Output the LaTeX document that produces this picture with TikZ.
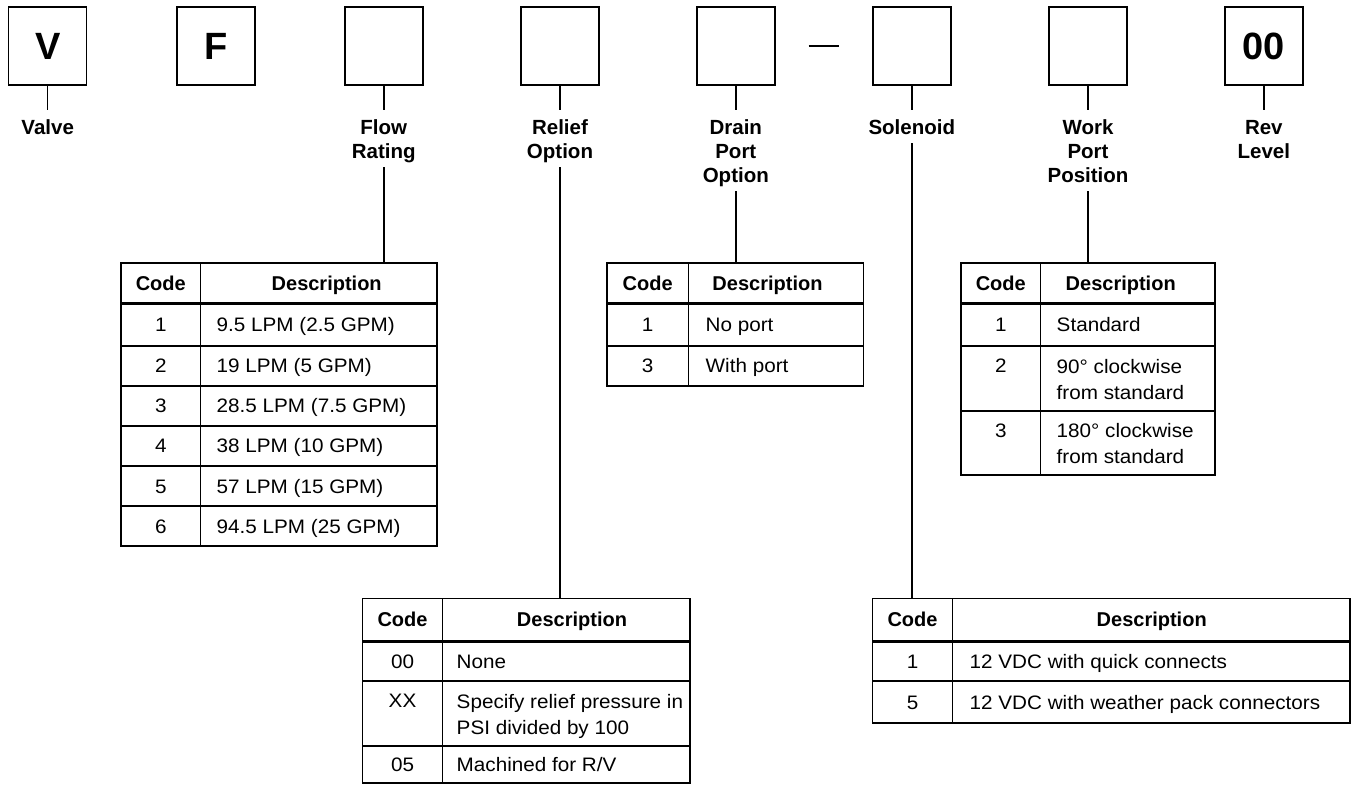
\documentclass[tikz,border=0pt]{standalone}
\usepackage{fontspec}
\setmainfont{Liberation Sans}
\newfontfamily\bodyfont[FakeStretch=1.06]{Liberation Sans}
\begin{document}
\begin{tikzpicture}[x=1pt,y=-1pt,line width=1.45pt,
  boxcell/.style={draw,minimum size=78pt,inner sep=0pt,font=\fontsize{38}{40}\selectfont\bfseries},
  labtext/.style={anchor=north,align=center,inner xsep=1pt,inner ysep=0pt,font=\fontsize{20.5}{24}\selectfont\bfseries},
  hdrtext/.style={anchor=base,inner sep=0pt,font=\fontsize{20}{24}\selectfont\bfseries},
  cellcode/.style={anchor=base,inner sep=0pt,font=\bodyfont\fontsize{19.5}{26}\selectfont},
  celldesc/.style={anchor=base west,inner sep=0pt,font=\bodyfont\fontsize{19.5}{26}\selectfont},
  celldesctwo/.style={anchor=north west,align=left,inner sep=0pt,font=\bodyfont\fontsize{19.5}{26}\selectfont},
  thickrule/.style={line width=3pt}]
\useasboundingbox (0,0) rectangle (1353,786);

% ---- code boxes ----
\node[boxcell] (bV) at (47.7,46) {V};
\node[boxcell] (bF) at (216,46) {F};
\node[boxcell] (bflow) at (383.8,46) {};
\node[boxcell] (brel) at (560,46) {};
\node[boxcell] (bdrain) at (735.8,46) {};
\node[boxcell] (bsol) at (911.8,46) {};
\node[boxcell] (bwork) at (1088,46) {};
\node[boxcell] (brev) at (1263.8,46) {00};
\draw ([xshift=33pt]bdrain.east) -- ([xshift=-33pt]bsol.west);

% ---- labels ----
\node[labtext] (lV) at (47.7,110) {\rule{0pt}{24pt}Valve};
\node[labtext] (lflow) at (383.8,110) {\rule{0pt}{24pt}Flow\\Rating\rule[-8pt]{0pt}{8pt}};
\node[labtext] (lrel) at (560,110) {\rule{0pt}{24pt}Relief\\Option\rule[-8pt]{0pt}{8pt}};
\node[labtext] (ldrain) at (735.8,110) {\rule{0pt}{24pt}Drain\\Port\\Option\rule[-8pt]{0pt}{8pt}};
\node[labtext] (lsol) at (911.8,110) {\rule{0pt}{24pt}Solenoid\rule[-8pt]{0pt}{8pt}};
\node[labtext] (lwork) at (1088,110) {\rule{0pt}{24pt}Work\\Port\\Position\rule[-8pt]{0pt}{8pt}};
\node[labtext] (lrev) at (1263.8,110) {\rule{0pt}{24pt}Rev\\Level};

\foreach \b/\l in {bV/lV,bflow/lflow,brel/lrel,bdrain/ldrain,bsol/lsol,bwork/lwork,brev/lrev}
  \draw (\b.south) -- (\l.north);

% ---- table anchors ----
\coordinate (tflow) at (121,263);
\coordinate (tdrain) at (607,263);
\coordinate (twork) at (961,263);
\coordinate (trel) at (362.3,598.5);
\coordinate (tsol) at (872.7,598.5);

\draw (lflow.south) -- (lflow.south |- tflow);
\draw (lrel.south) -- (lrel.south |- trel);
\draw (ldrain.south) -- (ldrain.south |- tdrain);
\draw (lsol.south) -- (lsol.south |- tsol);
\draw (lwork.south) -- (lwork.south |- twork);

% ---- Flow rating table ----
\draw (tflow) rectangle (437,546);
\draw (200.7,263) -- (200.7,546);
\draw[thickrule] (121,304) -- (437,304);
\foreach \y in {346,386,426,466,506} \draw (121,\y) -- (437,\y);
\node[hdrtext] (fhc) at (160.8,290.5) {Code};
\node[hdrtext] (fhd) at (326.7,290.5) {Description};
\node[cellcode] (f1c) at (160.8,332) {1};
\node[celldesc] (f1d) at (216,332) {9.5 LPM (2.5 GPM)};
\node[cellcode] (f2c) at (160.8,373) {2};
\node[celldesc] (f2d) at (216,373) {19 LPM (5 GPM)};
\node[cellcode] (f3c) at (160.8,413) {3};
\node[celldesc] (f3d) at (216,413) {28.5 LPM (7.5 GPM)};
\node[cellcode] (f4c) at (160.8,453) {4};
\node[celldesc] (f4d) at (216,453) {38 LPM (10 GPM)};
\node[cellcode] (f5c) at (160.8,493) {5};
\node[celldesc] (f5d) at (216,493) {57 LPM (15 GPM)};
\node[cellcode] (f6c) at (160.8,533) {6};
\node[celldesc] (f6d) at (216,533) {94.5 LPM (25 GPM)};

% ---- Drain port table ----
\draw (tdrain) rectangle (863.3,386);
\draw (688.3,263) -- (688.3,386);
\draw[thickrule] (607,304) -- (863.3,304);
\draw (607,346) -- (863.3,346);
\node[hdrtext] (dhc) at (647.7,290.5) {Code};
\node[hdrtext] (dhd) at (767.5,290.5) {Description};
\node[cellcode] (d1c) at (647.7,332) {1};
\node[celldesc] (d1d) at (705,332) {No port};
\node[cellcode] (d2c) at (647.7,373) {3};
\node[celldesc] (d2d) at (705,373) {With port};

% ---- Work port table ----
\draw (twork) rectangle (1215,475);
\draw (1040.7,263) -- (1040.7,475);
\draw[thickrule] (961,304) -- (1215,304);
\draw (961,346) -- (1215,346);
\draw (961,411) -- (1215,411);
\node[hdrtext] (whc) at (1000.8,290.5) {Code};
\node[hdrtext] (whd) at (1120.7,290.5) {Description};
\node[cellcode] (w1c) at (1000.8,332) {1};
\node[celldesc] (w1d) at (1056,332) {Standard};
\node[cellcode] (w2c) at (1000.8,372.5) {2};
\node[celldesctwo] (w2d) at (1056,352.5) {\rule{0pt}{20pt}90° clockwise\\from standard};
\node[cellcode] (w3c) at (1000.8,437) {3};
\node[celldesctwo] (w3d) at (1056,417) {\rule{0pt}{20pt}180° clockwise\\from standard};

% ---- Relief option table ----
\draw (trel) rectangle (690,783);
\draw (442.7,598.5) -- (442.7,783);
\draw[thickrule] (362.3,641) -- (690,641);
\draw (362.3,681) -- (690,681);
\draw (362.3,746) -- (690,746);
\node[hdrtext] (rhc) at (402.5,626.5) {Code};
\node[hdrtext] (rhd) at (572,626.5) {Description};
\node[cellcode] (r1c) at (402.5,668) {00};
\node[celldesc] (r1d) at (456,668) {None};
\node[cellcode] (r2c) at (402.5,707.5) {XX};
\node[celldesctwo] (r2d) at (456,687.5) {\rule{0pt}{20pt}Specify relief pressure in\\PSI divided by 100};
\node[cellcode] (r3c) at (402.5,771.5) {05};
\node[celldesc] (r3d) at (456,771.5) {Machined for R/V};

% ---- Solenoid table ----
\draw (tsol) rectangle (1350,723);
\draw (952.3,598.5) -- (952.3,723);
\draw[thickrule] (872.7,641) -- (1350,641);
\draw (872.7,681) -- (1350,681);
\node[hdrtext] (shc) at (912.5,626.5) {Code};
\node[hdrtext] (shd) at (1151.7,626.5) {Description};
\node[cellcode] (s1c) at (912.5,668) {1};
\node[celldesc] (s1d) at (969,668) {12 VDC with quick connects};
\node[cellcode] (s2c) at (912.5,709) {5};
\node[celldesc] (s2d) at (969,709) {12 VDC with weather pack connectors};
\end{tikzpicture}
\end{document}
